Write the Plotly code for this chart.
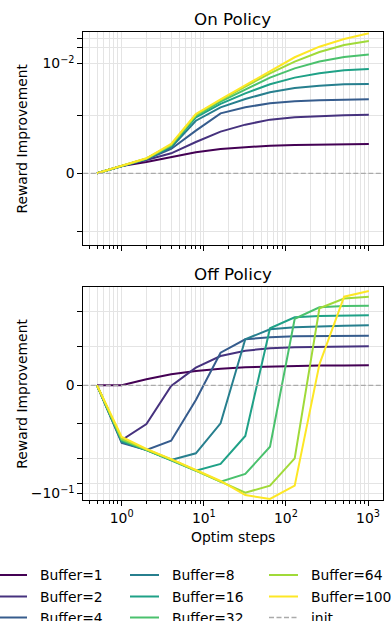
import numpy as np
import plotly.graph_objects as go

# ---------------- data ----------------
steps = [0.5, 1, 2, 4, 8, 16, 32, 64, 128, 256, 512, 1024]
buffer_sizes = [1, 2, 4, 8, 16, 32, 64, 100]

# On policy reward improvement
on_b1 = [0, 1.27e-4, 1.96e-4, 2.77e-4, 3.64e-4, 4.21e-4, 4.56e-4, 4.79e-4, 4.90e-4, 4.96e-4, 5.02e-4, 5.08e-4]
on_b2 = [0, 1.27e-4, 2.31e-4, 3.46e-4, 5.42e-4, 7.21e-4, 8.42e-4, 9.29e-4, 9.69e-4, 9.93e-4, 1.01e-3, 1.03e-3]
on_b4 = [0, 1.27e-4, 2.42e-4, 4.21e-4, 7.39e-4, 1.10e-3, 1.44e-3, 1.72e-3, 1.88e-3, 1.96e-3, 2.02e-3, 2.05e-3]
on_b8 = [0, 1.27e-4, 2.48e-4, 4.50e-4, 9.10e-4, 1.44e-3, 2.08e-3, 2.80e-3, 3.39e-3, 3.76e-3, 3.99e-3, 4.05e-3]
on_b16 = [0, 1.27e-4, 2.54e-4, 4.73e-4, 9.69e-4, 1.67e-3, 2.67e-3, 3.99e-3, 5.36e-3, 6.49e-3, 7.41e-3, 7.86e-3]
on_b32 = [0, 1.27e-4, 2.54e-4, 4.85e-4, 9.93e-4, 1.85e-3, 3.19e-3, 5.36e-3, 8.09e-3, 1.09e-2, 1.34e-2, 1.50e-2]
on_b64 = [0, 1.27e-4, 2.57e-4, 4.90e-4, 1.03e-3, 1.99e-3, 3.60e-3, 6.49e-3, 1.09e-2, 1.67e-2, 2.28e-2, 2.72e-2]
on_b100 = [0, 1.27e-4, 2.60e-4, 5.08e-4, 1.07e-3, 2.05e-3, 3.81e-3, 7.30e-3, 1.32e-2, 2.11e-2, 2.96e-2, 3.81e-2]

# Off policy reward improvement
off_b1 = [0, 0, 1.55e-4, 2.85e-4, 3.71e-4, 4.31e-4, 4.65e-4, 4.83e-4, 5.00e-4, 5.09e-4, 5.13e-4, 5.17e-4]
off_b2 = [0, -2.89e-3, -1.00e-3, -1.8e-5, 4.55e-4, 7.58e-4, 8.95e-4, 9.57e-4, 9.83e-4, 9.96e-4, 1.00e-3, 1.02e-3]
off_b4 = [0, -3.52e-3, -5.60e-3, -3.03e-3, -3.80e-4, 8.43e-4, 1.63e-3, 1.85e-3, 1.98e-3, 2.02e-3, 2.05e-3, 2.06e-3]
off_b8 = [0, -3.30e-3, -5.60e-3, -1.09e-2, -6.97e-3, -9.83e-4, 1.63e-3, 3.15e-3, 3.60e-3, 3.84e-3, 4.00e-3, 4.10e-3]
off_b16 = [0, -3.09e-3, -5.60e-3, -1.09e-2, -2.20e-2, -1.41e-2, -2.22e-3, 3.37e-3, 6.97e-3, 7.59e-3, 7.74e-3, 7.94e-3]
off_b32 = [0, -2.89e-3, -5.50e-3, -1.07e-2, -2.20e-2, -4.56e-2, -2.74e-2, -4.50e-3, 6.30e-3, 1.35e-2, 1.47e-2, 1.50e-2]
off_b64 = [0, -2.70e-3, -5.42e-3, -1.05e-2, -2.17e-2, -4.50e-2, -9.44e-2, -5.94e-2, -9.70e-3, 1.26e-2, 2.40e-2, 2.72e-2]
off_b100 = [0, -2.37e-3, -5.24e-3, -1.02e-2, -2.10e-2, -4.35e-2, -1.10e-1, -1.43e-1, -5.94e-2, 5.43e-4, 2.72e-2, 3.97e-2]

on_series = [on_b1, on_b2, on_b4, on_b8, on_b16, on_b32, on_b64, on_b100]
off_series = [off_b1, off_b2, off_b4, off_b8, off_b16, off_b32, off_b64, off_b100]

# tick positions (data units)
x_major = [1, 10, 100, 1000]
x_major_text = ["10<sup>0</sup>", "10<sup>1</sup>", "10<sup>2</sup>", "10<sup>3</sup>"]
top_yticks = [-1e-3, 0, 1e-3, 1e-2, 2e-2, 3e-2]
top_ytext = ["", "0", "", "10<sup>\u22122</sup>", "", ""]
bot_yticks = [-1e-1, -5e-2, -1e-2, -1e-3, 0, 1e-3, 1e-2]
bot_ytext = ["\u221210<sup>\u22121</sup>", "", "", "", "0", "", ""]

colors = ['#440154', '#46327e', '#365c8d', '#277f8e', '#1fa187', '#4ac16d', '#a0da39', '#fde725']
legend_labels = [f"Buffer={b}" for b in buffer_sizes] + ["init"]

LINTHRESH = 1e-3


def symlog(v, linthresh=LINTHRESH, base=10.0, linscale=1.0):
    v = np.asarray(v, dtype=float)
    adj = linscale / (1.0 - 1.0 / base)
    a = np.abs(v)
    safe = np.maximum(a, linthresh)
    return np.where(a <= linthresh, v / linthresh * adj,
                    np.sign(v) * (adj + np.log10(safe / linthresh) / np.log10(base)))


W, H = 391, 621
FONT = "DejaVu Sans"
GRID = "#e4e4e4"
INIT_COLOR = "#aaaaaa"
INIT_DASH = "5px,2.5px"

fig = go.Figure()

for i, b in enumerate(buffer_sizes):
    fig.add_trace(go.Scatter(
        x=steps, y=symlog(on_series[i]), mode='lines', name=f"Buffer={b}",
        line=dict(color=colors[i], width=2), xaxis='x', yaxis='y', showlegend=False))
    fig.add_trace(go.Scatter(
        x=steps, y=symlog(off_series[i]), mode='lines', name=f"Buffer={b}",
        line=dict(color=colors[i], width=2), xaxis='x2', yaxis='y2', showlegend=False))

# init reference lines at 0
for xr, yr in [('x domain', 'y'), ('x2 domain', 'y2')]:
    fig.add_shape(type='line', xref=xr, yref=yr, x0=0, x1=1, y0=0, y1=0,
                  line=dict(color=INIT_COLOR, width=1.3, dash=INIT_DASH), layer='above')

x_minor = [k * 10.0 ** e for e in range(-1, 4) for k in range(2, 10)]
x_minor = [v for v in x_minor if 0.34 < v < 1512]

xdom = [83.3 / W, 382.7 / W]
top_dom = [(H - 245.0) / H, (H - 32.3) / H]
bot_dom = [(H - 500.0) / H, (H - 287.3) / H]

common_x = dict(type='log', range=[-0.468, 3.179], domain=xdom,
                showline=True, linecolor='black', linewidth=1, mirror=True,
                ticks='outside', ticklen=5, tickwidth=1, tickcolor='black',
                tickmode='array', tickvals=x_major, ticktext=x_major_text,
                showgrid=True, gridcolor=GRID, gridwidth=1, zeroline=False,
                tickfont=dict(family=FONT, size=13.9, color='black'),
                minor=dict(tickmode='array', tickvals=x_minor, ticks='outside', ticklen=3,
                           tickwidth=1, tickcolor='black', showgrid=True,
                           gridcolor=GRID, gridwidth=1))

common_y = dict(showline=True, linecolor='black', linewidth=1, mirror=True,
                ticks='outside', ticklen=5, tickwidth=1, tickcolor='black',
                tickmode='array', showgrid=True, gridcolor=GRID, gridwidth=1,
                zeroline=False, tickfont=dict(family=FONT, size=13.9, color='black'))

fig.update_layout(
    width=W, height=H,
    margin=dict(l=0, r=0, t=0, b=0, autoexpand=False),
    paper_bgcolor='white', plot_bgcolor='white',
    font=dict(family=FONT, size=13.9, color='black'),
    xaxis=dict(**common_x, anchor='y', showticklabels=False),
    xaxis2=dict(**common_x, anchor='y2', showticklabels=True),
    yaxis=dict(**common_y, domain=top_dom, range=[-1.379, 2.712], anchor='x',
               tickvals=symlog(top_yticks), ticktext=top_ytext),
    yaxis2=dict(**common_y, domain=bot_dom, range=[-3.296, 2.816], anchor='x2',
                tickvals=symlog(bot_yticks), ticktext=bot_ytext),
    showlegend=False,
)

ann = []
ann.append(dict(text="On Policy", x=(xdom[0] + xdom[1]) / 2, y=1 - 19 / H, xref='paper', yref='paper',
                xanchor='center', yanchor='middle', showarrow=False,
                font=dict(family=FONT, size=16.7, color='black')))
ann.append(dict(text="Off Policy", x=(xdom[0] + xdom[1]) / 2, y=1 - 274 / H, xref='paper', yref='paper',
                xanchor='center', yanchor='middle', showarrow=False,
                font=dict(family=FONT, size=16.7, color='black')))
ann.append(dict(text="Optim steps", x=(xdom[0] + xdom[1]) / 2, y=1 - 537 / H, xref='paper', yref='paper',
                xanchor='center', yanchor='middle', showarrow=False,
                font=dict(family=FONT, size=13.9, color='black')))
for yc in [138.6, 393.7]:
    ann.append(dict(text="Reward Improvement", x=22 / W, y=1 - yc / H, xref='paper', yref='paper',
                    xanchor='center', yanchor='middle', showarrow=False, textangle=-90,
                    font=dict(family=FONT, size=13.9, color='black')))

# ---- legend (3 columns, column-major, like matplotlib ncol=3) ----
col_line_x = [-2, 130, 269]
row_y = [575, 596.5, 617.5]
line_len = 29
text_gap = 11
legend_colors = colors + [INIT_COLOR]
for k, lab in enumerate(legend_labels):
    c, r = divmod(k, 3)
    x0 = col_line_x[c]
    yc = row_y[r]
    is_init = (lab == "init")
    fig.add_shape(type='line', xref='paper', yref='paper',
                  x0=x0 / W, x1=(x0 + line_len) / W, y0=1 - yc / H, y1=1 - yc / H,
                  line=dict(color=legend_colors[k], width=1.3 if is_init else 2,
                            dash=INIT_DASH if is_init else 'solid'))
    ann.append(dict(text=lab, x=(x0 + line_len + text_gap) / W, y=1 - yc / H,
                    xref='paper', yref='paper', xanchor='left', yanchor='middle',
                    showarrow=False, font=dict(family=FONT, size=13.9, color='black')))

fig.update_layout(annotations=ann)

# remove the browser's default page margin so the figure sits at the window's corner
fig.write_html("out.html",
               config={'displayModeBar': False},
               post_script="document.body.style.margin='0px';document.body.style.overflow='hidden';")
